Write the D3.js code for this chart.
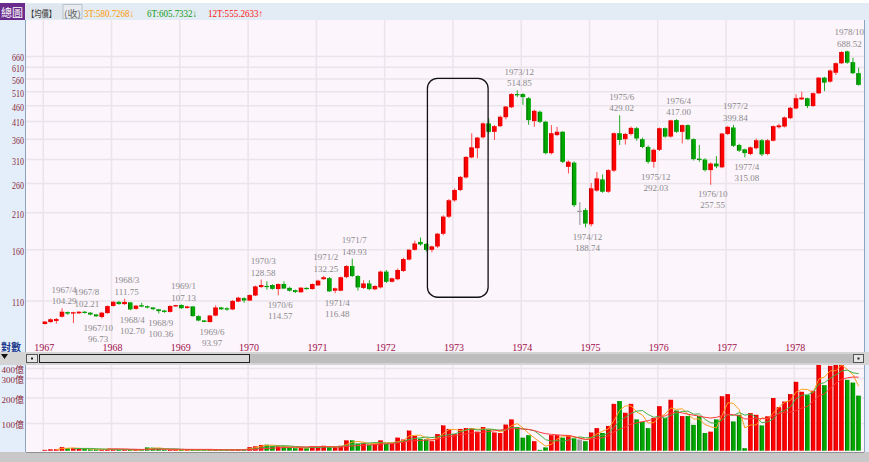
<!DOCTYPE html>
<html><head><meta charset="utf-8">
<script src="https://cdn.jsdelivr.net/npm/d3@7"></script>
<style>
html,body{margin:0;padding:0;background:#fff;}
svg{display:block;}
text{font-family:"Liberation Serif","Noto Sans CJK TC",serif;}
</style></head><body>
<svg id="c" width="869" height="462"></svg>
<script>
// ---------- data ----------
const years = [1967,1968,1969,1970,1971,1972,1973,1974,1975,1976,1977,1978];
const opens = [92.9,94.2,95.0,98.0,101.3,100.3,100.5,101.6,100.9,99.6,97.8,100.6,
 106.0,109.2,107.5,108.8,103.8,106.6,105.8,104.8,103.4,102.5,101.5,105.8,
 106.8,104.4,105.6,98.4,95.3,94.2,98.8,104.8,104.2,103.4,109.5,112.2,
 110.3,114.5,121.8,122.8,123.6,120.0,124.5,121.0,119.0,117.2,121.0,120.0,
 123.3,129.0,130.0,118.6,118.6,131.0,142.0,132.0,121.0,125.0,119.8,121.5,
 136.3,126.6,129.0,137.0,149.0,160.0,169.5,167.0,160.0,164.0,180.0,204.0,
 230.0,248.0,272.0,315.0,337.0,365.0,404.0,380.0,396.0,423.0,455.0,501.0,
 501.0,486.0,411.0,440.0,409.0,325.0,371.0,380.0,294.0,303.0,213.0,214.0,
 193.0,247.0,268.0,245.0,286.0,376.0,360.0,374.0,390.0,360.0,340.0,305.0,
 333.0,390.0,367.0,414.0,380.0,399.0,360.0,312.0,310.0,287.0,301.0,293.0,
 374.0,392.0,345.0,334.0,323.0,337.0,357.0,323.0,356.0,393.0,395.0,420.0,
 451.0,482.0,486.0,459.0,504.0,565.0,549.0,586.0,628.0,685.0,633.0,584.0];
const highs = [95.0,96.8,97.0,104.29,101.8,101.6,102.0,102.21,101.3,100.0,101.5,106.5,
 109.8,110.0,111.75,109.0,106.8,108.5,106.3,105.3,103.8,103.0,106.5,106.9,
 107.13,106.2,106.0,99.0,95.6,99.3,106.5,105.3,105.0,110.8,113.3,113.0,
 115.5,123.0,128.58,127.0,124.3,125.0,127.0,122.0,119.5,121.5,121.5,125.0,
 128.5,132.25,131.0,121.3,131.5,143.0,149.93,133.0,128.0,128.0,123.5,137.5,
 138.0,130.5,139.5,151.0,161.0,171.0,175.0,168.0,165.0,181.0,206.0,232.0,
 251.0,275.0,318.0,376.0,366.0,407.0,419.0,399.0,428.0,459.0,504.0,514.85,
 504.0,490.0,447.0,444.0,412.0,399.0,394.0,382.0,308.0,306.0,227.0,217.0,
 261.0,283.0,278.0,289.0,378.0,429.02,377.0,395.0,394.0,364.0,344.0,336.0,
 392.0,392.0,415.0,417.0,401.0,401.0,362.0,345.0,313.0,304.0,318.0,377.0,
 397.0,399.84,348.0,336.0,341.0,362.0,360.0,360.0,398.0,403.0,425.0,456.0,
 500.0,510.0,488.0,507.0,567.0,568.0,600.0,632.0,686.0,688.52,654.0,608.0];
const lows = [92.5,93.8,93.2,97.5,99.3,93.5,100.0,100.2,99.0,97.8,96.73,100.3,
 105.5,107.0,106.8,102.7,103.2,105.0,104.2,102.8,100.36,100.8,101.0,105.3,
 103.8,104.0,98.0,94.8,94.1,93.97,98.3,103.0,102.3,102.8,109.0,108.6,
 110.0,114.0,121.0,119.5,119.5,114.57,120.0,117.8,116.5,117.0,119.5,119.5,
 123.0,128.5,117.5,116.48,118.0,130.0,131.0,118.7,120.0,119.0,119.0,120.5,
 125.5,126.0,128.0,136.0,148.0,159.0,165.0,158.0,157.0,162.0,178.0,202.0,
 227.6,246.0,270.0,313.0,313.0,362.0,376.0,358.0,393.0,416.0,452.0,490.0,
 463.0,400.0,394.0,405.0,322.0,322.0,368.0,302.0,280.0,219.0,192.0,188.74,
 190.0,245.0,243.0,243.0,283.0,345.0,346.0,370.0,356.0,337.0,301.0,292.03,
 330.0,364.0,364.0,377.0,349.0,357.0,308.0,305.0,284.0,257.55,291.0,291.0,
 371.0,340.0,328.0,315.08,320.0,334.0,318.0,320.0,354.0,389.0,392.0,417.0,
 448.0,480.0,452.0,456.0,501.0,512.0,545.0,576.0,624.0,626.0,580.0,533.0];
const closes = [94.5,96.1,96.3,101.6,100.3,101.2,101.6,100.8,99.6,98.3,100.9,105.9,
 109.3,107.5,109.2,103.4,106.2,105.6,104.8,103.6,102.1,101.5,106.0,106.6,
 104.3,105.6,98.4,95.3,94.3,98.8,104.8,103.5,103.5,110.0,112.6,110.4,
 114.8,122.3,123.6,121.8,120.2,124.5,120.5,118.6,117.5,121.2,120.0,124.5,
 127.6,130.8,118.0,120.6,130.8,142.0,132.0,121.5,125.0,120.0,122.7,136.3,
 126.6,129.8,138.0,149.5,160.0,167.5,166.5,160.0,164.0,180.0,204.0,230.0,
 248.0,273.0,316.0,339.0,364.0,404.0,380.0,396.0,424.0,457.0,501.0,497.0,
 490.0,414.0,443.0,409.0,325.0,376.0,380.0,305.0,305.0,222.0,213.0,194.0,
 251.0,270.0,245.0,287.0,376.0,358.0,374.0,391.0,362.0,340.0,305.0,333.0,
 390.0,367.0,413.0,380.0,399.0,360.0,311.0,309.0,287.0,301.0,295.0,375.0,
 394.0,343.0,331.0,325.0,339.0,357.0,322.0,357.0,396.0,398.0,422.0,453.0,
 486.0,488.0,459.0,504.0,565.0,545.0,595.0,628.0,682.0,631.0,584.0,536.0];
// volume, 億
const volumes = [3,5,5,13,9,9,8,6,5,5,5,6,
 4,4,4,3,3,3,12,11,8,4,3,3,
 3,3,3,3,3,3,3,3,3,4,4,4,
 13,16,21,22,18,16,16,12,9,12,9,16,
 13,18,13,13,18,38,38,26,29,22,26,38,
 25,25,48,41,74,54,44,41,35,61,93,80,
 61,80,83,83,70,87,77,67,65,96,116,87,
 48,57,35,3,12,57,57,48,57,45,41,35,
 67,83,65,91,177,188,142,177,116,106,83,122,
 168,122,193,151,129,129,95,129,65,70,116,209,
 220,108,134,9,141,134,93,128,200,164,186,220,
 283,232,215,237,440,266,426,440,440,293,279,212];
// price tick labels (log axis)
const priceTicks = [110,160,210,260,310,360,410,460,510,560,610,660];
const volTicks = [100,200,300,400];
const volTickLabels = ["100億","200億","300億","400億"];
// extreme annotations
const markMonths = ["1967/4","1967/8","1967/10","1968/3","1968/4","1968/9","1969/1","1969/6",
 "1970/3","1970/6","1971/2","1971/4","1971/7","1973/12","1974/12","1975/6","1975/12",
 "1976/4","1976/10","1977/2","1977/4","1978/10"];
const markValues = [104.29,102.21,96.73,111.75,102.70,100.36,107.13,93.97,
 128.58,114.57,132.25,116.48,149.93,514.85,188.74,429.02,292.03,
 417.00,257.55,399.84,315.08,688.52];
const markSides = ["h","h","l","h","l","l","h","l","h","l","h","l","h","h","l","h","l","h","l","h","l","h"];
// header texts
const headerItems = [
 {t:"3T:580.7268↓", c:"#ff9900"},
 {t:"6T:605.7332↓", c:"#119911"},
 {t:"12T:555.2633↑", c:"#ff1111"}];

// ---------- build ----------
const months = [];
years.forEach(yr => { for (let m = 1; m <= 12; m++) months.push(yr + "/" + m); });
const candles = months.map((m, i) => ({m, i, o: opens[i], h: highs[i], l: lows[i], c: closes[i], v: volumes[i]}));

const svg = d3.select("#c");
const W = 869, H = 462;
const PL = 26, PR = 864;
const priceTop = 20, priceBot = 352, volTop = 365, volBot = 452;

const x = d3.scaleBand().domain(months).range([42.15, 861.5]).paddingInner(0.22).paddingOuter(0.11);
const xc = m => x(m) + x.bandwidth() / 2;
const y = d3.scaleLog().domain([82, 856]).range([341, 21]);
const vy = d3.scaleLinear().domain([0, 100, 200, 300, 400]).range([450.7, 423.5, 398, 378.5, 368.5]);

const upC = "#ff0000", dnC = "#00a800", flatC = "#a0a0a0";
const colorOf = d => d.c > d.o ? upC : (d.c < d.o ? dnC : flatC);
const wickOf = d => d.c > d.o ? "#ff4a4a" : (d.c < d.o ? "#22aa22" : "#909090");
const edgeOf = d => d.c > d.o ? "#c00000" : (d.c < d.o ? "#007000" : "#808080");

// backgrounds
svg.append("rect").attr("x",0).attr("y",0).attr("width",W).attr("height",H).attr("fill","#ffffff");
svg.append("rect").attr("x",0).attr("y",3).attr("width",W).attr("height",17).attr("fill","#e3ebf4");
svg.append("rect").attr("x",0).attr("y",priceTop).attr("width",PL).attr("height",priceBot-priceTop).attr("fill","#e4eefa");
svg.append("rect").attr("x",0).attr("y",volTop).attr("width",PL).attr("height",volBot-volTop).attr("fill","#e4eefa");
svg.append("rect").attr("x",PL).attr("y",priceTop).attr("width",PR-PL).attr("height",priceBot-priceTop).attr("fill","#fcf5fc");
svg.append("rect").attr("x",PL).attr("y",volTop).attr("width",PR-PL).attr("height",volBot-volTop).attr("fill","#fcf5fc");
svg.append("rect").attr("x",PR).attr("y",priceTop).attr("width",W-PR).attr("height",volBot-priceTop).attr("fill","#e4eefa");
svg.append("line").attr("x1",PL-0.5).attr("x2",PL-0.5).attr("y1",priceTop).attr("y2",priceBot).attr("stroke","#8da4c0");
svg.append("line").attr("x1",PL-0.5).attr("x2",PL-0.5).attr("y1",volTop).attr("y2",volBot).attr("stroke","#8da4c0");
svg.append("line").attr("x1",PR+0.5).attr("x2",PR+0.5).attr("y1",priceTop).attr("y2",volBot).attr("stroke","#8da4c0");
svg.append("rect").attr("x",0).attr("y",volBot).attr("width",W).attr("height",H-volBot).attr("fill","#c8c8c8");
svg.append("line").attr("x1",PL).attr("x2",PR).attr("y1",volBot+0.5).attr("y2",volBot+0.5).attr("stroke","#909090");

// header
svg.append("rect").attr("x",0).attr("y",3).attr("width",25).attr("height",17).attr("fill","#6a2b8c");
svg.append("text").attr("x",23).attr("y",16.5).attr("text-anchor","end").attr("fill","#fff")
  .style("font-size","11px").style("font-family","'Noto Sans CJK TC'").text("總圖");
svg.append("rect").attr("x",26).attr("y",4).attr("width",36).attr("height",15).attr("fill","#dfe6ee");
svg.append("text").attr("x",27).attr("y",16.5).attr("fill","#333").style("font-size","9px")
  .style("font-family","'Noto Sans CJK TC'").attr("textLength",29).attr("lengthAdjust","spacingAndGlyphs").text("【均價】");
svg.append("rect").attr("x",63).attr("y",4.5).attr("width",19).attr("height",14).attr("fill","#e8ecf0").attr("stroke","#b8c0c8");
svg.append("text").attr("x",64).attr("y",16.5).attr("fill","#666").style("font-size","9px")
  .style("font-family","'Noto Sans CJK TC'").attr("textLength",17).attr("lengthAdjust","spacingAndGlyphs").text("(收)");
const hx = [84, 147, 208], hw = [50, 50, 55];
headerItems.forEach((h, k) => {
  svg.append("text").attr("x",hx[k]).attr("y",17).attr("fill",h.c).style("font-size","10px")
    .attr("textLength",hw[k]).attr("lengthAdjust","spacingAndGlyphs").text(h.t);
});

// grid
const grid = svg.append("g").attr("stroke","#ebe4eb").attr("stroke-width",1.5);
priceTicks.forEach(v => grid.append("line").attr("x1",PL).attr("x2",PR).attr("y1",y(v)).attr("y2",y(v)));
volTicks.forEach(v => grid.append("line").attr("x1",PL).attr("x2",PR).attr("y1",vy(v)).attr("y2",vy(v)));
years.forEach(yr => {
  const gx = x(yr + "/1") + 0.5;
  grid.append("line").attr("x1",gx).attr("x2",gx).attr("y1",priceTop).attr("y2",priceBot);
  grid.append("line").attr("x1",gx).attr("x2",gx).attr("y1",volTop).attr("y2",volBot);
});

// y-axis labels
svg.append("g").selectAll("text").data(priceTicks).join("text")
  .attr("x",24).attr("y",v => y(v) + 5).attr("text-anchor","end").attr("fill","#8b2a3a")
  .style("font-size","10px").attr("textLength",12).attr("lengthAdjust","spacingAndGlyphs").text(v => v);
// x-axis labels
svg.append("g").selectAll("text").data(years).join("text")
  .attr("x",yr => x(yr + "/1") + 1.5).attr("y",351).attr("text-anchor","middle").attr("fill","#a0104a")
  .style("font-size","10px").text(yr => yr);
svg.append("text").attr("x",1).attr("y",351).attr("fill","#1c3a8c").style("font-size","10px")
  .style("font-family","'Noto Sans CJK TC'").style("font-weight","bold").text("對數");

// candles
const cg = svg.append("g");
cg.selectAll("line").data(candles).join("line")
  .attr("x1",d => xc(d.m)).attr("x2",d => xc(d.m))
  .attr("y1",d => y(d.h)).attr("y2",d => y(d.l)).attr("stroke",wickOf).attr("stroke-width",1);
cg.selectAll("rect").data(candles).join("rect")
  .attr("x",d => x(d.m)).attr("width",x.bandwidth())
  .attr("y",d => y(Math.max(d.o, d.c)))
  .attr("height",d => Math.max(1.2, Math.abs(y(d.o) - y(d.c))))
  .attr("fill",colorOf);
cg.selectAll("line.edge").data(candles).join("line").attr("class","edge")
  .attr("x1",d => x(d.m) + 0.5).attr("x2",d => x(d.m) + 0.5)
  .attr("y1",d => y(Math.max(d.o, d.c))).attr("y2",d => y(Math.max(d.o, d.c)) + Math.max(1.2, Math.abs(y(d.o) - y(d.c))))
  .attr("stroke",edgeOf).attr("stroke-width",1);

// annotations
const ag = svg.append("g").attr("fill","#8a8a8a").style("font-size","9px");
markMonths.forEach((m, k) => {
  const v = markValues[k], cx = xc(m) + 2, yy = y(v);
  const hi = markSides[k] === "h";
  ag.append("text").attr("x",cx).attr("y",hi ? yy - 15.5 : yy + 12.5).attr("text-anchor","middle").text(m);
  ag.append("text").attr("x",cx).attr("y",hi ? yy - 4 : yy + 23.5).attr("text-anchor","middle").text(v.toFixed(2));
});

// highlight box
const bx0 = xc("1972/8") + 1.2, bx1 = xc("1973/7") - 0.7;
svg.append("rect").attr("x",bx0).attr("y",y(562)).attr("width",bx1 - bx0).attr("height",y(113) - y(562))
  .attr("rx",10).attr("ry",10).attr("fill","none").attr("stroke","#111").attr("stroke-width",1.3);

// scrollbar
svg.append("rect").attr("x",0).attr("y",priceBot).attr("width",W).attr("height",volTop-priceBot).attr("fill","#d4d4d4");
svg.append("rect").attr("x",250).attr("y",354).attr("width",603).attr("height",9).attr("fill","#bdbdbd");
svg.append("path").attr("d","M1,354 L8,354 L4.5,359 Z").attr("fill","#111");
svg.append("rect").attr("x",26.5).attr("y",354.5).attr("width",11).attr("height",8).attr("fill","#e6e6e6").attr("stroke","#555");
svg.append("rect").attr("x",31).attr("y",357.5).attr("width",2).attr("height",2).attr("fill","#222");
svg.append("rect").attr("x",39.5).attr("y",354.5).attr("width",210).attr("height",8).attr("fill","#dadada").attr("stroke","#222");
svg.append("rect").attr("x",853.5).attr("y",354.5).attr("width",10).attr("height",8).attr("fill","#e6e6e6").attr("stroke","#555");
svg.append("rect").attr("x",857.5).attr("y",357.5).attr("width",2).attr("height",2).attr("fill","#222");

// volume
const vg = svg.append("g");
vg.selectAll("rect").data(candles).join("rect")
  .attr("x",d => x(d.m)).attr("width",x.bandwidth())
  .attr("y",d => Math.max(volTop, vy(d.v))).attr("height",d => vy(0) - Math.max(volTop, vy(d.v)))
  .attr("fill",colorOf);
vg.selectAll("line").data(candles).join("line")
  .attr("x1",d => x(d.m) + 0.5).attr("x2",d => x(d.m) + 0.5)
  .attr("y1",d => Math.max(volTop, vy(d.v))).attr("y2",vy(0))
  .attr("stroke",edgeOf);
// volume moving averages
const maSpecs = [{n:3, c:"#ffa020"}, {n:6, c:"#44b044"}, {n:12, c:"#ff3a3a"}];
maSpecs.forEach(s => {
  const ma = candles.map((d, i) => i < s.n - 1 ? null : d3.mean(volumes.slice(i - s.n + 1, i + 1)));
  const line = d3.line().defined(d => d.v != null).x(d => xc(d.m)).y(d => Math.max(volTop, vy(d.v)));
  vg.append("path").datum(candles.map((d, i) => ({m: d.m, v: ma[i]})))
    .attr("d", line).attr("fill","none").attr("stroke",s.c).attr("stroke-width",1);
});
svg.append("g").selectAll("text").data(volTicks).join("text")
  .attr("x",24).attr("y",v => vy(v) + 4.5).attr("text-anchor","end").attr("fill","#8b2a3a")
  .style("font-size","9px").text((v, k) => volTickLabels[k]);
</script>
</body></html>
